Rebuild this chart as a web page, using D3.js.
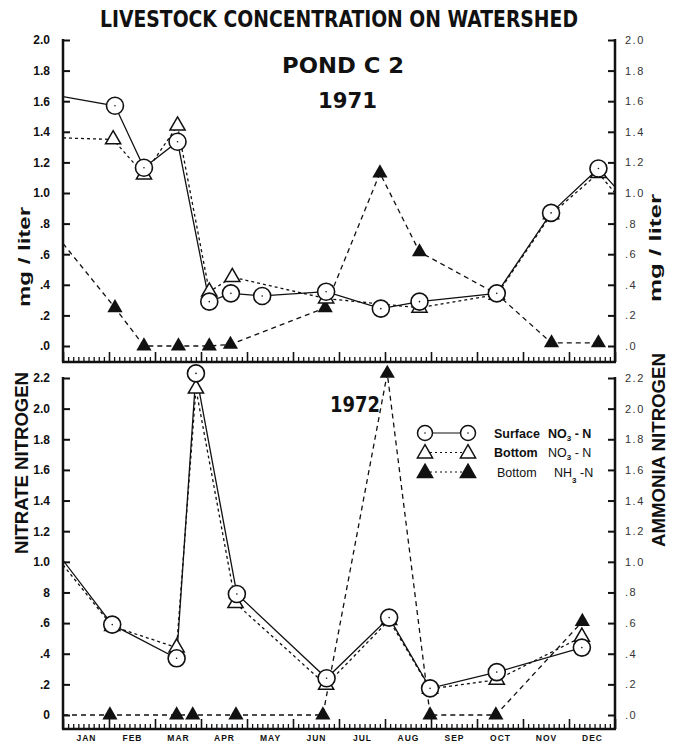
<!DOCTYPE html>
<html>
<head>
<meta charset="utf-8">
<script src="https://cdn.jsdelivr.net/npm/d3@7"></script>
<style>
  body { margin: 0; background: #fff; }
  svg { display: block; font-family: "DejaVu Sans Condensed", "DejaVu Sans", sans-serif; }
</style>
</head>
<body>
<script>
// month positions: 0 = start of January, 12 = end of December
const months = ['JAN', 'FEB', 'MAR', 'APR', 'MAY', 'JUN', 'JUL', 'AUG', 'SEP', 'OCT', 'NOV', 'DEC'];

// 1971
const surf71M = [0, 1.13, 1.76, 2.49, 3.18, 3.65, 4.33, 5.72, 6.91, 7.75, 9.43, 10.61, 11.64, 12];
const surf71V = [1.63, 1.57, 1.165, 1.335, 0.29, 0.344, 0.327, 0.355, 0.244, 0.29, 0.344, 0.87, 1.16, 1.04];
const bot71M = [0, 1.09, 1.76, 2.49, 3.18, 3.68, 5.72, 7.75, 9.43, 10.61, 11.64, 12];
const bot71V = [1.36, 1.35, 1.12, 1.44, 0.355, 0.45, 0.31, 0.25, 0.335, 0.86, 1.13, 1.0];
const nh71M = [0, 1.13, 1.76, 2.51, 3.18, 3.64, 5.70, 6.89, 7.75, 9.43, 10.62, 11.64];
const nh71V = [0.67, 0.25, 0, 0, 0, 0.01, 0.25, 1.13, 0.615, 0.34, 0.02, 0.02];

// 1972
const surf72M = [0, 1.07, 2.47, 2.89, 3.78, 5.73, 7.09, 7.98, 9.43, 11.28];
const surf72V = [1.01, 0.59, 0.37, 2.23, 0.79, 0.24, 0.636, 0.174, 0.28, 0.44];
const bot72M = [0, 1.07, 2.47, 2.89, 3.75, 5.72, 7.09, 7.98, 9.43, 11.28];
const bot72V = [0.98, 0.58, 0.44, 2.13, 0.73, 0.196, 0.62, 0.17, 0.23, 0.51];
const nh72M = [0, 1.02, 2.47, 2.82, 3.76, 5.65, 7.05, 7.98, 9.41, 11.29];
const nh72V = [0, 0, 0, 0, 0, 0, 2.23, 0, 0, 0.61];

// tick labels
const ticks71 = [0, 0.2, 0.4, 0.6, 0.8, 1.0, 1.2, 1.4, 1.6, 1.8, 2.0];
const left71 = ['.0', '.2', '.4', '.6', '.8', '1.0', '1.2', '1.4', '1.6', '1.8', '2.0'];
const right71 = ['.0', '.2', '.4', '.6', '.8', '1.0', '1.2', '1.4', '1.6', '1.8', '2.0'];
const ticks72 = [0, 0.2, 0.4, 0.6, 0.8, 1.0, 1.2, 1.4, 1.6, 1.8, 2.0, 2.2];
const left72 = ['0', '.2', '.4', '.6', '8', '1.0', '1.2', '1.4', '1.6', '1.8', '2.0', '2.2'];
const right72 = ['.0', '.2', '.4', '.6', '.8', '1.0', '1.2', '1.4', '1.6', '1.8', '2.0', '2.2'];

const legendNames = ['Surface', 'Bottom', 'Bottom'];
const legendIons = [['NO', '3', ' - N'], ['NO', '3', ' - N'], ['NH', '3', ' -N']];

const svg = d3.select('body').append('svg')
  .attr('width', 678)
  .attr('height', 744);

const x = d3.scaleLinear().domain([0, 12]).range([63, 615]);
const yTop = d3.scaleLinear().domain([0, 2]).range([346, 40]);
const yBot = d3.scaleLinear().domain([0, 2.2]).range([715, 378]);

const pts = (m, v) => m.map((d, i) => ({ m: d, v: v[i] }));
const tri = d3.symbol().type(d3.symbolTriangle).size(100);

function panel(y, base, ticks, leftLab, rightLab, surf, bot, nh, id) {
  const g = svg.append('g');
  const top = y(ticks[ticks.length - 1]);

  g.append('clipPath').attr('id', id)
    .append('rect')
    .attr('x', x(0)).attr('y', top - 20)
    .attr('width', x(12) - x(0)).attr('height', base - top + 20);

  // y axes, ticks inward
  const la = g.append('g')
    .attr('transform', `translate(${x(0)},0)`)
    .call(d3.axisLeft(y).tickValues(ticks).tickFormat((d, i) => leftLab[i])
      .tickSizeInner(-7).tickSizeOuter(0).tickPadding(13));
  la.selectAll('text').attr('font-family', 'Liberation Sans, Arial, sans-serif')
    .attr('font-size', 12).attr('font-weight', 'bold').attr('fill', '#111');

  const ra = g.append('g')
    .attr('transform', `translate(${x(12)},0)`)
    .call(d3.axisRight(y).tickValues(ticks).tickFormat((d, i) => rightLab[i])
      .tickSizeInner(-7).tickSizeOuter(0).tickPadding(10));
  ra.selectAll('text').attr('font-family', 'Liberation Sans, Arial, sans-serif')
    .attr('font-size', 11).attr('letter-spacing', 1.5).attr('fill', '#333');

  g.selectAll('.domain').remove();
  g.selectAll('.tick line').attr('stroke', '#111').attr('stroke-width', 2);

  // axis lines
  g.append('line').attr('x1', x(0)).attr('x2', x(0)).attr('y1', top - 1).attr('y2', base)
    .attr('stroke', '#111').attr('stroke-width', 2.5);
  g.append('line').attr('x1', x(12)).attr('x2', x(12)).attr('y1', top - 1).attr('y2', base)
    .attr('stroke', '#111').attr('stroke-width', 2.5);

  // month ticks pointing up
  const xb = g.append('g').attr('transform', `translate(0,${base})`);
  xb.call(d3.axisBottom(x).tickValues(d3.range(0, 13)).tickFormat('').tickSizeInner(-10).tickSizeOuter(0));
  const xm = g.append('g').attr('transform', `translate(0,${base})`);
  xm.call(d3.axisBottom(x).tickValues(d3.range(0, 108).filter(i => i % 9).map(i => i / 9))
    .tickFormat('').tickSizeInner(-5).tickSizeOuter(0));
  xb.select('.domain').remove();
  xm.select('.domain').remove();
  xb.selectAll('line').attr('stroke', '#111').attr('stroke-width', 1.6);
  xm.selectAll('line').attr('stroke', '#111').attr('stroke-width', 1.3);
  g.append('line').attr('x1', x(0) - 1).attr('x2', x(12) + 1).attr('y1', base).attr('y2', base)
    .attr('stroke', '#111').attr('stroke-width', 2.5);

  const line = d3.line().x(d => x(d.m)).y(d => y(d.v));
  const lines = g.append('g').attr('clip-path', `url(#${id})`);
  const sets = [
    { data: pts(nh.m, nh.v), dash: '5,4' },
    { data: pts(bot.m, bot.v), dash: '3,3' },
    { data: pts(surf.m, surf.v), dash: null }
  ];
  sets.forEach(s => {
    lines.append('path').datum(s.data)
      .attr('d', line)
      .attr('fill', 'none')
      .attr('stroke', '#111')
      .attr('stroke-width', 1.3)
      .attr('stroke-dasharray', s.dash);
  });

  const inside = d => d.m > 0 && d.m < 12;
  g.selectAll('.nh').data(sets[0].data.filter(inside)).enter()
    .append('path').attr('class', 'nh')
    .attr('d', tri)
    .attr('transform', d => `translate(${x(d.m)},${y(d.v)})`)
    .attr('fill', '#111');
  g.selectAll('.bot').data(sets[1].data.filter(inside)).enter()
    .append('path').attr('class', 'bot')
    .attr('d', tri)
    .attr('transform', d => `translate(${x(d.m)},${y(d.v)})`)
    .attr('fill', '#fff').attr('stroke', '#111').attr('stroke-width', 1.5);
  const c = g.selectAll('.surf').data(sets[2].data.filter(inside)).enter()
    .append('g').attr('class', 'surf')
    .attr('transform', d => `translate(${x(d.m)},${y(d.v)})`);
  c.append('circle').attr('r', 8.5).attr('fill', '#fff').attr('stroke', '#111').attr('stroke-width', 1.6);
  c.append('circle').attr('r', 0.8).attr('fill', '#111');
}

panel(yTop, 362, ticks71, left71, right71,
  { m: surf71M, v: surf71V }, { m: bot71M, v: bot71V }, { m: nh71M, v: nh71V }, 'clip71');
panel(yBot, 729, ticks72, left72, right72,
  { m: surf72M, v: surf72V }, { m: bot72M, v: bot72V }, { m: nh72M, v: nh72V }, 'clip72');

// month labels
const ml = svg.append('g')
  .attr('transform', 'translate(0,735)')
  .call(d3.axisBottom(x).tickValues(d3.range(12).map(i => i + 0.5))
    .tickFormat((d, i) => months[i]).tickSize(0).tickPadding(0));
ml.select('.domain').remove();
ml.selectAll('text').attr('font-family', 'Liberation Sans, Arial, sans-serif')
  .attr('font-size', 8.5).attr('font-weight', 'bold').attr('letter-spacing', 1).attr('fill', '#111');

// titles
const big = (t, xx, yy, len, size) => svg.append('text')
  .attr('x', xx).attr('y', yy)
  .attr('textLength', len).attr('lengthAdjust', 'spacingAndGlyphs')
  .attr('font-size', size).attr('font-weight', 'bold').attr('fill', '#111')
  .text(t);
big('LIVESTOCK CONCENTRATION ON WATERSHED', 100, 27, 478, 23);
big('POND  C 2', 282, 73, 122, 22);
big('1971', 318, 108, 59, 22);
big('1972', 330, 412, 50, 21);

const side = (t, xx, yy, len, size) => svg.append('text')
  .attr('transform', `translate(${xx},${yy}) rotate(-90)`)
  .attr('text-anchor', 'middle')
  .attr('textLength', len).attr('lengthAdjust', 'spacingAndGlyphs')
  .attr('font-family', 'Liberation Sans, Arial, sans-serif')
  .attr('font-size', size).attr('font-weight', 'bold').attr('fill', '#111')
  .text(t);
side('mg  /  liter', 30, 257, 100, 17);
side('mg  /  liter', 661, 248, 108, 17);
side('NITRATE  NITROGEN', 28, 463, 182, 19);
side('AMMONIA  NITROGEN', 665, 450, 194, 19);

// legend
const leg = svg.append('g');
legendNames.forEach((name, i) => {
  const yy = 433 + i * 19.5;
  leg.append('line').attr('x1', 425).attr('x2', 468).attr('y1', yy).attr('y2', yy)
    .attr('stroke', '#111').attr('stroke-width', 1.2)
    .attr('stroke-dasharray', i === 0 ? null : '2,3');
  [425, 468].forEach(xx => {
    if (i === 0) {
      leg.append('circle').attr('cx', xx).attr('cy', yy).attr('r', 7.5)
        .attr('fill', '#fff').attr('stroke', '#111').attr('stroke-width', 1.5);
      leg.append('circle').attr('cx', xx).attr('cy', yy).attr('r', 0.8).attr('fill', '#111');
    } else {
      leg.append('path').attr('d', tri)
        .attr('transform', `translate(${xx},${yy + 1})`)
        .attr('fill', i === 2 ? '#111' : '#fff')
        .attr('stroke', '#111').attr('stroke-width', 1.5);
    }
  });
  leg.append('text').attr('x', i === 2 ? 497 : 494).attr('y', yy + 4.5)
    .attr('font-family', 'Liberation Sans, Arial, sans-serif')
    .attr('font-size', 12.5).attr('font-weight', i === 2 ? 'normal' : 'bold').attr('fill', '#111')
    .text(name);
  const ion = leg.append('text').attr('x', i === 2 ? 554 : 548).attr('y', yy + 4.5)
    .attr('font-family', 'Liberation Sans, Arial, sans-serif')
    .attr('font-size', 12.5).attr('font-weight', i === 0 ? 'bold' : 'normal').attr('fill', '#111');
  ion.append('tspan').text(legendIons[i][0]);
  ion.append('tspan').attr('dy', i === 2 ? 6 : 3).attr('font-size', 8).attr('font-weight', 'bold').text(legendIons[i][1]);
  ion.append('tspan').attr('dy', i === 2 ? -6 : -3).text(legendIons[i][2]);
});
</script>
</body>
</html>
